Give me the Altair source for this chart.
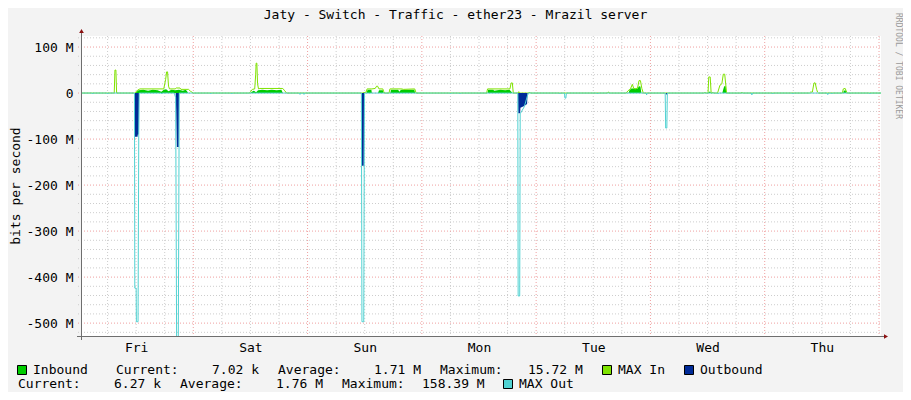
import json
import altair as alt
import pandas as pd

FONT = "DejaVu Sans Mono"

# ---- time axis: hours since Friday 00:00 ; values in Mbit/s ----
DAYS = ["Fri", "Sat", "Sun", "Mon", "Tue", "Wed", "Thu"]
DAY_LABEL_HOURS = [12, 36, 60, 84, 108, 132, 156]
MINOR_X = [6, 12, 18, 30, 36, 42, 54, 60, 66, 78, 84, 90, 102, 108, 114,
           126, 132, 138, 150, 156, 162]
MAJOR_X = [24, 48, 72, 96, 120, 144, 168]
MINOR_Y = [-520, -480, -460, -440, -420, -380, -360, -340, -320, -280, -260,
           -240, -220, -180, -160, -140, -120, -80, -60, -40, -20, 20, 40, 60,
           80, 120]
MAJOR_Y = [-500, -400, -300, -200, -100, 0, 100]
Y_LABELS = [-500, -400, -300, -200, -100, 0, 100]

# Inbound (area), (hour, Mbit/s)
INBOUND = [(0.42, 0), (11.9, 0), (12.1, 3), (12.5, 6), (13.5, 7), (14.5, 5), (15.5, 7),
           (16.5, 6), (17.3, 3), (17.8, 7), (18.3, 8), (18.8, 4), (19.4, 7), (20.2, 6),
           (21.0, 7), (21.8, 5), (22.4, 7), (22.7, 4), (22.9, 0),
           (36.0, 0), (36.3, 3), (36.7, 5), (37.2, 2), (37.6, 6), (38.5, 7), (39.5, 6),
           (40.5, 7), (41.5, 6), (42.5, 7), (42.8, 0),
           (60.4, 0), (60.6, 7), (61.4, 7), (61.5, 0), (62.8, 0), (63.0, 6), (63.8, 6),
           (64.0, 0), (65.4, 0), (65.5, 7), (67.0, 7), (67.3, 3), (67.6, 7), (70.4, 7),
           (70.6, 0),
           (85.8, 0), (85.9, 7), (87.0, 7), (87.2, 5), (88.5, 7), (89.5, 6), (90.4, 7),
           (90.8, 3), (91.0, 0),
           (115.4, 0), (115.6, 6), (116.0, 10), (117.3, 10), (117.6, 15), (117.9, 14),
           (118.1, 0),
           (132.15, 0), (132.3, 3), (132.6, 3), (132.7, 0),
           (135.1, 0), (135.3, 8), (135.5, 15), (135.8, 15), (135.9, 0),
           (160.5, 0), (160.6, 5), (161.0, 6), (161.1, 0), (168.42, 0)]

# MAX In (line)
MAX_IN = [(0.42, 0), (7.4, 0), (7.55, 50), (7.75, 50), (7.9, 0),
          (11.7, 0), (12.0, 3), (12.4, 7), (12.8, 9), (17.8, 9), (18.2, 30), (18.4, 46),
          (18.6, 46), (18.8, 15), (19.0, 9), (20.2, 9), (20.4, 11), (21.2, 11), (21.4, 8),
          (23.0, 8), (23.4, 4), (24.0, 0),
          (35.8, 0), (36.1, 4), (36.4, 8), (36.9, 9), (37.1, 40), (37.2, 65), (37.35, 65),
          (37.5, 20), (37.7, 9), (38.0, 10), (42.8, 10), (43.2, 5), (43.6, 0),
          (59.5, 0), (60.3, 2), (60.5, 9), (61.5, 9), (62.2, 10), (62.5, 15), (62.7, 15),
          (63.0, 9), (63.8, 9), (64.0, 3), (64.2, 0), (65.1, 0), (65.3, 9), (67.8, 9),
          (68.1, 8), (70.5, 9), (70.8, 0),
          (85.6, 0), (85.8, 9), (90.5, 9), (90.75, 22), (91.0, 22), (91.2, 0),
          (92.2, 0), (92.35, 3), (92.5, 0), (94.5, 0), (94.65, 2), (94.8, 0),
          (111.0, 0), (111.1, 2), (111.25, 2), (111.35, 0),
          (114.9, 0), (115.3, 5), (115.8, 9), (116.2, 19), (116.5, 10), (116.8, 9),
          (117.3, 11), (117.6, 27), (117.9, 27), (118.2, 10), (118.5, 0),
          (131.3, 0), (131.45, 2), (131.6, 0), (132.1, 0), (132.25, 35), (132.55, 35),
          (132.75, 0), (133.0, 0), (133.1, 2), (133.25, 0),
          (134.1, 0), (134.6, 17), (135.0, 20), (135.3, 41), (135.6, 41), (136.0, 0),
          (139.1, 0), (139.2, 2), (139.35, 0),
          (153.4, 0), (153.6, 2), (154.0, 2), (154.35, 22), (154.6, 22), (154.9, 8),
          (155.1, 2), (155.3, 0),
          (160.3, 0), (160.5, 9), (160.9, 10), (161.1, 5), (161.3, 0), (168.42, 0)]

# Outbound (area, drawn negative)
OUTBOUND = [(0.42, 0), (11.7, 0), (11.75, -95), (12.3, -95), (12.35, -90), (12.55, -90),
            (12.6, 0),
            (20.3, 0), (20.4, -35), (20.55, -117), (20.95, -117), (21.0, 0),
            (59.35, 0), (59.4, -158), (59.8, -158), (59.85, 0),
            (92.2, 0), (92.25, -44), (92.65, -44), (92.7, -32), (93.5, -28), (94.1, -24),
            (94.2, 0),
            (123.2, 0), (123.3, -3), (123.45, -3), (123.5, 0), (168.42, 0)]

# MAX Out (line, drawn negative)
MAX_OUT = [(0.42, 0), (2.8, 0), (2.88, -2), (2.96, 0), (5.95, 0), (6.03, -2), (6.11, 0),
           (11.65, 0), (11.72, -424), (12.0, -424), (12.05, -497), (12.4, -497),
           (12.55, -90), (12.65, 0),
           (17.3, 0), (17.37, -2), (17.45, 0),
           (20.0, 0), (20.3, -10), (20.5, -540), (20.85, -540), (21.05, 0),
           (27.6, 0), (27.66, -2), (27.75, 0), (32.0, 0), (32.07, -2), (32.15, 0),
           (46.3, 0), (46.41, -3), (46.5, 0), (47.15, 0), (47.25, -3), (47.35, 0),
           (59.3, 0), (59.42, -497), (59.8, -497), (59.95, 0),
           (77.9, 0), (78.0, -2), (78.1, 0), (79.9, 0), (80.0, -2), (80.1, 0),
           (92.15, 0), (92.22, -441), (92.55, -441), (92.65, -45), (93.5, -30),
           (94.2, -5), (94.4, 0),
           (100.9, 0), (101.0, -2), (101.1, 0), (101.95, 0), (102.05, -11), (102.25, -11),
           (102.35, 0),
           (108.8, 0), (108.9, -2), (109.0, 0), (119.1, 0), (119.2, -4), (119.3, 0),
           (123.1, 0), (123.2, -76), (123.45, -76), (123.55, 0),
           (134.1, 0), (134.2, -2), (134.3, 0), (141.2, 0), (141.3, -4), (141.45, 0),
           (145.6, 0), (145.7, -2), (145.8, 0), (149.8, 0), (149.9, -2), (150.0, 0),
           (157.1, 0), (157.2, -3), (157.3, -3), (157.4, 0), (158.0, 0), (158.1, -2),
           (158.2, 0),
           (166.0, 0), (166.1, -2), (166.2, 0), (168.42, 0)]

TITLE = "Jaty - Switch - Traffic - ether23 - Mrazil server"
Y_TITLE = "bits per second"
WATERMARK = "RRDTOOL / TOBI OETIKER"
LEGEND_LINE1 = [("Inbound", 33), ("Current:", 116), ("7.02 k", 212), ("Average:", 278),
                ("1.71 M", 374), ("Maximum:", 440), ("15.72 M", 528), ("MAX In", 618),
                ("Outbound", 700)]
LEGEND_LINE2 = [("Current:", 18), ("6.27 k", 114), ("Average:", 180), ("1.76 M", 276),
                ("Maximum:", 342), ("158.39 M", 422), ("MAX Out", 519)]

C_IN = "#00CC00"
C_MAXIN = "#7FE300"
C_OUT = "#002A97"
C_MAXOUT = "#50D2D2"

# page -> plot-area offsets (plot area starts at page 81,36)
OX, OY = 81, 36


def series_df(pairs):
    return pd.DataFrame({"h": [float(p[0]) for p in pairs],
                         "v": [float(p[1]) for p in pairs]})


xs = alt.Scale(domain=[0.42, 168.42], nice=False, zero=False)
ys = alt.Scale(domain=[-528, 124], nice=False, zero=False)
x_axis = alt.Axis(values=DAY_LABEL_HOURS,
                  labelExpr=json.dumps(DAYS) + "[floor(datum.value / 24)]",
                  domain=False, ticks=False, grid=False, title=None,
                  labelFont=FONT, labelFontSize=13, labelColor="#000000",
                  labelPadding=5, labelAngle=0, labelFlush=False, labelOverlap=False)
y_axis = alt.Axis(values=Y_LABELS,
                  labelExpr="datum.value == 0 ? '0' : datum.value + ' M'",
                  domain=False, ticks=False, grid=False, title=None,
                  labelFont=FONT, labelFontSize=13, labelColor="#000000",
                  labelPadding=8, labelBaseline="middle", labelFlush=False,
                  labelOverlap=False)
X = alt.X("h:Q", scale=xs, axis=x_axis)
Y = alt.Y("v:Q", scale=ys, axis=y_axis)
Y_AREA = alt.Y("v:Q", scale=ys, axis=y_axis, stack=None)

one = pd.DataFrame({"a": [0]})

layers = []
# grid
layers.append(alt.Chart(pd.DataFrame({"h": MINOR_X})).mark_rule(
    color="#CDCDCD", strokeDash=[1, 2], strokeWidth=1).encode(
    x=X, y=alt.value(0), y2=alt.value(303)))
layers.append(alt.Chart(pd.DataFrame({"v": MINOR_Y})).mark_rule(
    color="#CDCDCD", strokeDash=[1, 2], strokeWidth=1).encode(
    y=Y, x=alt.value(-3), x2=alt.value(800)))
layers.append(alt.Chart(pd.DataFrame({"h": MAJOR_X})).mark_rule(
    color="#EFA0A0", strokeDash=[1, 2], strokeWidth=1).encode(
    x=X, y=alt.value(0), y2=alt.value(303)))
layers.append(alt.Chart(pd.DataFrame({"v": MAJOR_Y})).mark_rule(
    color="#EFA0A0", strokeDash=[1, 2], strokeWidth=1).encode(
    y=Y, x=alt.value(-3), x2=alt.value(800)))

# data
layers.append(alt.Chart(series_df(INBOUND)).mark_area(
    color=C_IN, fill=C_IN, opacity=1, clip=True).encode(
    x=X, y=Y_AREA, y2=alt.datum(0)))
layers.append(alt.Chart(series_df(MAX_IN)).mark_line(
    color=C_MAXIN, strokeWidth=1, clip=True).encode(x=X, y=Y))
layers.append(alt.Chart(series_df(OUTBOUND)).mark_area(
    color=C_OUT, fill=C_OUT, opacity=1, clip=True).encode(
    x=X, y=Y_AREA, y2=alt.datum(0)))
layers.append(alt.Chart(series_df(MAX_OUT)).mark_line(
    color=C_MAXOUT, strokeWidth=1, clip=True).encode(x=X, y=Y))

# axis lines and arrows
layers.append(alt.Chart(one).mark_rule(color="#6E6E6E", strokeWidth=1).encode(
    x=alt.value(-4), x2=alt.value(804), y=alt.value(300.5)))
layers.append(alt.Chart(one).mark_rule(color="#6E6E6E", strokeWidth=1).encode(
    x=alt.value(0.5), y=alt.value(-4), y2=alt.value(304)))
layers.append(alt.Chart(one).mark_point(
    shape="triangle-up", filled=True, color="#8B1010", size=22, opacity=1).encode(
    x=alt.value(0.5), y=alt.value(-5)))
layers.append(alt.Chart(one).mark_point(
    shape="triangle-right", filled=True, color="#8B1010", size=22, opacity=1).encode(
    x=alt.value(805), y=alt.value(300.5)))


def txt(s, px, py, size=13, align="left", color="#000000", angle=0,
        baseline="alphabetic"):
    return alt.Chart(one).mark_text(
        text=s, font=FONT, fontSize=size, align=align, baseline=baseline,
        color=color, angle=angle).encode(x=alt.value(px - OX), y=alt.value(py - OY))


def box(px0, py0, color):
    return alt.Chart(one).mark_rect(fill=color, stroke="#000000", strokeWidth=1).encode(
        x=alt.value(px0 - OX), x2=alt.value(px0 + 9 - OX),
        y=alt.value(py0 - OY), y2=alt.value(py0 + 9 - OY))


layers.append(txt(TITLE, 455.5, 18.5, align="center"))
layers.append(txt(Y_TITLE, 16, 186, angle=270, align="center", baseline="middle"))
layers.append(txt(WATERMARK, 898, 66, size=8, align="center", baseline="middle",
                  color="#9A9A9A", angle=90))

for s, px in LEGEND_LINE1:
    layers.append(txt(s, px, 373.5))
for s, px in LEGEND_LINE2:
    layers.append(txt(s, px, 388))

layers.append(box(17.5, 365.5, C_IN))
layers.append(box(602.5, 365.5, C_MAXIN))
layers.append(box(684.5, 365.5, C_OUT))
layers.append(box(503.5, 379.5, C_MAXOUT))

chart = alt.layer(*layers).properties(
    width=800, height=300,
    padding={"left": 73, "top": 28, "right": 22, "bottom": 56},
    autosize=alt.AutoSizeParams(type="none"),
    background="#F3F3F3",
).configure_view(fill="#FFFFFF", stroke=None)

chart.save("out.html", embed_options={"renderer": "svg", "actions": False})
